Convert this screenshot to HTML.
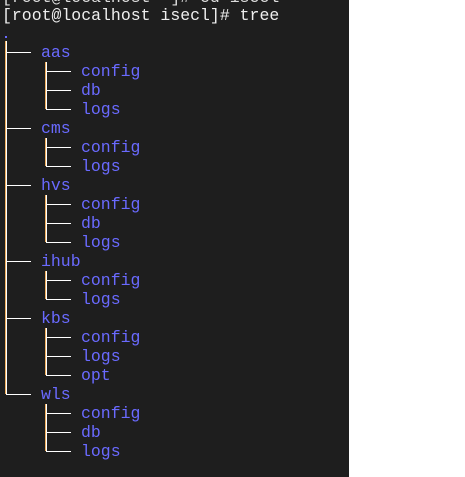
<!DOCTYPE html>
<html><head><style>
body{margin:0;width:465px;height:477px;background:#fff;position:relative;overflow:hidden;font-family:"Liberation Mono",monospace;}
#t{position:absolute;left:0;top:0;width:349px;height:477px;background:#1e1e1e;}
.x{position:absolute;font-size:16.5px;line-height:19px;color:#6a6aff;white-space:pre;}
.h{position:absolute;height:1px;background:#fff;}
.v{position:absolute;width:1px;background:#fff;border-left:1px solid #f0b060;}
</style></head><body><div id="t">
<div class="x" style="left:2px;top:-12px;color:#ddd">[root@localhost ~]# cd isecl</div>
<div class="x" style="left:2px;top:6px;color:#eee">[root@localhost isecl]# tree</div>
<div style="position:absolute;left:5px;top:36px;width:2px;height:2px;background:#6a6aff"></div>
<div class="v" style="left:5px;top:41px;height:353px"></div>
</div>
<script>
var rows=[["aas",["config","db","logs"]],["cms",["config","logs"]],["hvs",["config","db","logs"]],["ihub",["config","logs"]],["kbs",["config","logs","opt"]],["wls",["config","db","logs"]]];
var y=52,h="",t=document.getElementById("t");
rows.forEach(function(r){
 h+='<div class="h" style="left:6px;top:'+y+'px;width:25px"></div><div class="x" style="left:41px;top:'+(y-9)+'px">'+r[0]+'</div>';
 var s=y;
 r[1].forEach(function(c){y+=19;h+='<div class="h" style="left:46px;top:'+y+'px;width:25px"></div><div class="x" style="left:81px;top:'+(y-9)+'px">'+c+'</div>';});
 h+='<div class="v" style="left:45px;top:'+(s+10)+'px;height:'+(y-s-10)+'px"></div>';
 y+=19;
});
t.insertAdjacentHTML("beforeend",h);
</script>
</body></html>
